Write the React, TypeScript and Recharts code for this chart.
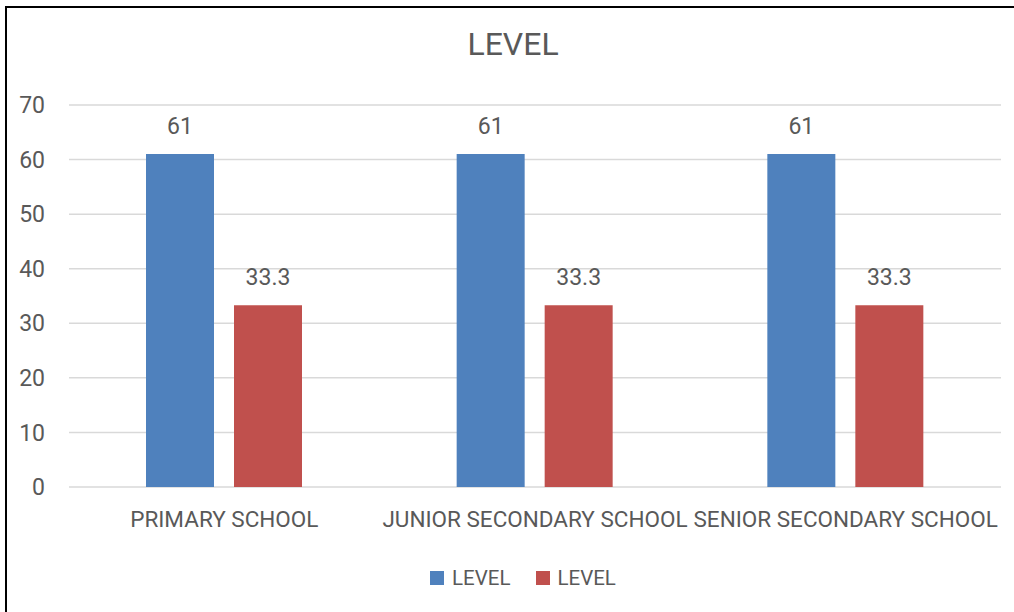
import React from 'react';
import { BarChart, Bar, XAxis, YAxis, CartesianGrid, Legend, LabelList } from 'recharts';

const categories = ['PRIMARY SCHOOL', 'JUNIOR SECONDARY SCHOOL', 'SENIOR SECONDARY SCHOOL'];
const seriesA = [61, 61, 61];
const seriesB = [33.3, 33.3, 33.3];
const yTicks = [0, 10, 20, 30, 40, 50, 60, 70];
const seriesNames = ['LEVEL', 'LEVEL'];

const BLUE = '#4F81BD';
const RED = '#C0504D';
const TEXT = '#595959';
const FONT = 'Roboto, "Liberation Sans", sans-serif';

const data = categories.map((c, i) => ({ name: c, a: seriesA[i], b: seriesB[i] }));

const LegendContent = () => (
  <div style={{ display: 'flex', alignItems: 'center', height: 26, fontFamily: FONT, fontSize: 20.5, color: TEXT }}>
    <span style={{ width: 14, height: 14, background: BLUE, display: 'inline-block', marginRight: 8 }} />
    <span style={{ marginRight: 26 }}>{seriesNames[0]}</span>
    <span style={{ width: 14, height: 14, background: RED, display: 'inline-block', marginRight: 7 }} />
    <span>{seriesNames[1]}</span>
  </div>
);

export default function App() {
  return (
    <div style={{ position: 'absolute', left: 0, top: 0, width: 1014, height: 612, background: '#fff', overflow: 'hidden' }}>
      <div
        style={{
          position: 'absolute',
          left: 5,
          top: 6,
          width: 1009,
          height: 606,
          borderTop: '2px solid #000',
          borderLeft: '2px solid #000',
          boxSizing: 'border-box',
        }}
      />
      <div
        style={{
          position: 'absolute',
          top: 28,
          left: 0,
          width: 1026,
          textAlign: 'center',
          fontFamily: FONT,
          fontSize: 32,
          lineHeight: '32px',
          color: TEXT,
        }}
      >
        LEVEL
      </div>
      <div style={{ position: 'absolute', left: 0, top: 0 }}>
        <BarChart
          width={1014}
          height={612}
          data={data}
          margin={{ top: 105, right: 13, left: 0, bottom: 0 }}
          barSize={68}
          barGap={20}
        >
          <CartesianGrid vertical={false} stroke="#D9D9D9" strokeWidth={1.5} />
          <XAxis
            dataKey="name"
            axisLine={false}
            tickLine={false}
            interval={0}
            height={99}
            tickMargin={18}
            tick={{ fill: TEXT, fontSize: 22.5, fontFamily: FONT }}
          />
          <YAxis
            domain={[0, 70]}
            ticks={yTicks}
            width={69}
            axisLine={false}
            tickLine={false}
            tickMargin={18}
            tick={{ fill: TEXT, fontSize: 23, fontFamily: FONT }}
          />
          <Legend
            verticalAlign="bottom"
            content={<LegendContent />}
            wrapperStyle={{ left: 430, top: 565, width: 'auto', bottom: 'auto' }}
          />
          <Bar dataKey="a" name={seriesNames[0]} fill={BLUE} isAnimationActive={false}>
            <LabelList dataKey="a" position="top" offset={20} fill={TEXT} fontSize={23} fontFamily={FONT} />
          </Bar>
          <Bar dataKey="b" name={seriesNames[1]} fill={RED} isAnimationActive={false}>
            <LabelList dataKey="b" position="top" offset={20} fill={TEXT} fontSize={23} fontFamily={FONT} />
          </Bar>
        </BarChart>
      </div>
    </div>
  );
}
